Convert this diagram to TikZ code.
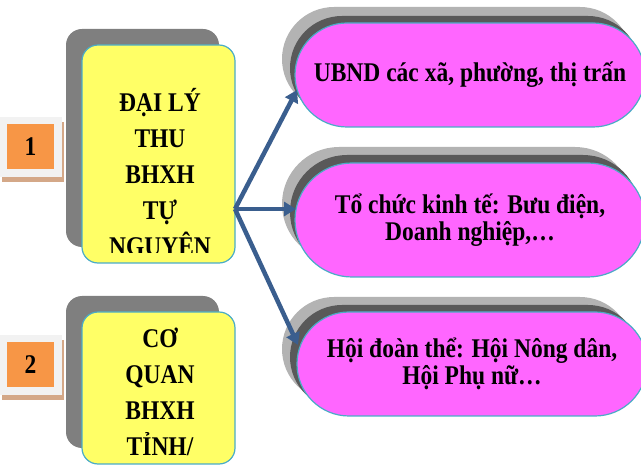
\documentclass[tikz,border=0pt]{standalone}
\usepackage{fontspec}
\setmainfont{Liberation Serif}
\newfontfamily\tallfont[FakeStretch=0.87]{Liberation Serif}
\usetikzlibrary{shapes.misc,arrows.meta}
\definecolor{ybg}{HTML}{FFFF66}
\definecolor{ysh}{HTML}{7F7F7F}
\definecolor{edgec}{HTML}{4BACC6}
\definecolor{pinkc}{HTML}{FF66FF}
\definecolor{shlight}{HTML}{B3B3B3}
\definecolor{shdark}{HTML}{595959}
\definecolor{numorange}{HTML}{F79646}
\definecolor{numgray}{HTML}{F2F2F2}
\definecolor{numbrown}{HTML}{D4A888}
\definecolor{arrc}{HTML}{3A5E8E}
\begin{document}
\begin{tikzpicture}[x=1pt,y=-1pt,
  numbg/.style={rectangle,fill=numgray,draw=none,minimum width=62pt,minimum height=60pt,inner sep=0},
  numsh/.style={rectangle,fill=numbrown,draw=none,minimum width=62pt,minimum height=60pt,inner sep=0},
  numbox/.style={rectangle,fill=numorange,draw=none,minimum width=47pt,minimum height=45pt,inner sep=0,
     font=\tallfont\fontsize{27}{30}\selectfont\bfseries},
  yshadow/.style={rectangle,rounded corners=16pt,fill=ysh,draw=none,minimum width=153pt,inner sep=0},
  ybox/.style={rectangle,rounded corners=16pt,fill=ybg,draw=edgec,line width=1.2pt,minimum width=153pt,inner sep=0},
  ytext/.style={align=center,inner sep=0,font=\tallfont\fontsize{27}{36}\selectfont\bfseries},
  pshl/.style={rounded rectangle,fill=shlight,draw=none,minimum width=350pt,inner sep=0},
  pshd/.style={rounded rectangle,fill=shdark,draw=none,minimum width=350pt,inner sep=0},
  pill/.style={rounded rectangle,fill=pinkc,draw=edgec,line width=1.2pt,minimum width=350pt,inner sep=0,
     align=center,font=\tallfont\fontsize{27}{27}\selectfont\bfseries},
  arr/.style={draw=arrc,line width=4.5pt,-{Triangle[length=12pt,width=14pt]}}
]
\useasboundingbox (0,0) rectangle (641,465);
\clip (0,0) rectangle (641,465);

% number boxes
\node[numsh] (n1s) at (33,152) {};
\node[numbg] (n1b) at (31,147) {};
\node[numbox] (n1) at (30.5,146.5) {1};
\node[numsh] (n2s) at (33,370) {};
\node[numbg] (n2b) at (31,365) {};
\node[numbox] (n2) at (30.5,365) {2};

% yellow boxes
\node[yshadow,minimum height=218pt] (y1s) at (142.5,138) {};
\node[ybox,minimum height=218pt] (y1) at (158.5,154) {};
\begin{scope}
  \clip (82,45) rectangle (235,253);
  \node[ytext] (t1) at (160,172) {ĐẠI LÝ\\THU\\BHXH\\TỰ\\NGUYÊN};
\end{scope}
\node[yshadow,minimum height=152pt] (y2s) at (142.5,372) {};
\node[ybox,minimum height=152pt] (y2) at (158.5,388) {};
\node[ytext] (t2) at (160,392) {CƠ\\QUAN\\BHXH\\TỈNH/};

% pills
\node[pshl,minimum height=104pt] (p1l) at (457,59) {};
\node[pshd,minimum height=104pt] (p1d) at (465,68) {};
\node[pill,minimum height=104pt] (p1) at (470,75) {UBND các xã, phường, thị trấn};

\node[pshl,minimum height=114pt] (p2l) at (457,204) {};
\node[pshd,minimum height=114pt] (p2d) at (465,212) {};
\node[pill,minimum height=114pt] (p2) at (470,220) {Tổ chức kinh tế: Bưu điện,\\Doanh nghiệp,…};

\node[pshl,minimum height=104pt] (p3l) at (457,349) {};
\node[pshd,minimum height=104pt] (p3d) at (465,357) {};
\node[pill,minimum height=104pt] (p3) at (472,364) {Hội đoàn thể: Hội Nông dân,\\Hội Phụ nữ…};

% arrows
\coordinate (src) at (235,209);
\coordinate (e1) at (297,90);
\coordinate (e2) at (296,209);
\coordinate (e3) at (298,345);
\draw[arr] (src) -- (e1);
\draw[arr] (src) -- (e2);
\draw[arr] (src) -- (e3);
\end{tikzpicture}
\end{document}
